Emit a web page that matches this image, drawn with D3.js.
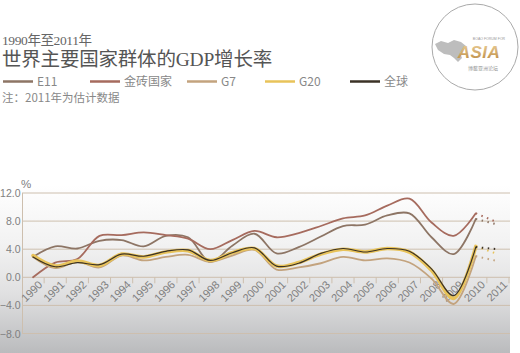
<!DOCTYPE html>
<html>
<head>
<meta charset="utf-8">
<script src="https://cdn.jsdelivr.net/npm/d3@7"></script>
<style>
  body { margin: 0; background: #fff; }
  svg { display: block; }
</style>
</head>
<body>
<svg id="chart" width="520" height="353"></svg>
<script>
// years on the x axis (2011 is an estimate, drawn dotted)
const years = [1990, 1991, 1992, 1993, 1994, 1995, 1996, 1997, 1998, 1999, 2000,
               2001, 2002, 2003, 2004, 2005, 2006, 2007, 2008, 2009, 2010, 2011];

// GDP growth, %
const e11   = [2.9, 4.4, 4.1, 5.2, 5.3, 4.4, 5.9, 5.7, 2.2, 4.5, 6.2, 3.4, 4.3, 5.8, 7.3, 7.5, 8.8, 9.1, 5.7, 3.3, 8.3, 7.5];
const brics = [0.0, 2.1, 2.6, 5.9, 6.0, 6.4, 6.0, 5.5, 4.0, 5.3, 6.6, 5.7, 6.3, 7.3, 8.4, 8.8, 10.2, 11.2, 7.8, 5.9, 9.1, 7.8];
const g7    = [2.9, 1.3, 2.2, 1.4, 3.1, 2.4, 2.9, 3.2, 2.2, 3.1, 3.9, 1.1, 1.4, 2.0, 2.9, 2.4, 2.7, 2.1, -0.2, -3.8, 3.0, 2.3];
const g20   = [3.1, 1.6, 2.3, 1.7, 3.3, 2.9, 3.6, 3.8, 2.4, 3.5, 4.1, 1.6, 2.1, 3.3, 4.0, 3.6, 4.1, 3.6, 1.0, -3.0, 4.4, 3.3];
const world = [2.9, 1.5, 2.1, 1.8, 3.3, 3.0, 3.7, 3.9, 2.4, 3.5, 4.2, 1.6, 2.0, 3.4, 4.1, 3.6, 4.1, 3.7, 1.2, -2.6, 4.3, 4.0];

const seriesNames = ['E11', '金砖国家', 'G7', 'G20', '全球'];
const seriesColors = ['#8d7565', '#a66b5e', '#c3a37e', '#e8c35a', '#3b3226'];
const yTicks = [-8, -4, 0, 4, 8, 12];

const svg = d3.select('#chart');
const cjk = "'Noto Sans CJK SC', 'Noto Sans', sans-serif";

// background panel gradient
const defs = svg.append('defs');
const grad = defs.append('linearGradient')
    .attr('id', 'bg').attr('x1', 0).attr('y1', 0).attr('x2', 0).attr('y2', 1);
grad.append('stop').attr('offset', '0%').attr('stop-color', '#ffffff');
grad.append('stop').attr('offset', '35%').attr('stop-color', '#f2f2f2');
grad.append('stop').attr('offset', '65%').attr('stop-color', '#e0e0e1');
grad.append('stop').attr('offset', '100%').attr('stop-color', '#babbbd');

const logoGrad = defs.append('linearGradient')
    .attr('id', 'asia').attr('x1', 0).attr('y1', 0).attr('x2', 0).attr('y2', 1);
logoGrad.append('stop').attr('offset', '0%').attr('stop-color', '#ecd09a');
logoGrad.append('stop').attr('offset', '100%').attr('stop-color', '#b8863e');

svg.append('rect')
    .attr('x', 0).attr('y', 185).attr('width', 510).attr('height', 168)
    .attr('fill', 'url(#bg)');

// titles
svg.append('text')
    .attr('x', 2).attr('y', 44.5)
    .attr('font-family', "'Liberation Serif', " + cjk)
    .attr('font-size', 13.5).attr('fill', '#666')
    .attr('letter-spacing', -0.4)
    .text('1990年至2011年');

svg.append('text')
    .attr('x', 2).attr('y', 65.5)
    .attr('font-family', "'Liberation Serif', " + cjk)
    .attr('font-size', 19.5).attr('fill', '#555')
    .attr('letter-spacing', -0.2)
    .text('世界主要国家群体的GDP增长率');

// legend
const legendX = [3, 90, 187, 265, 350];
const legend = svg.append('g').selectAll('g')
    .data(seriesNames)
    .enter().append('g')
    .attr('transform', (d, i) => 'translate(' + legendX[i] + ',81.5)');
legend.append('line')
    .attr('x1', 0).attr('x2', 30)
    .attr('stroke', (d, i) => seriesColors[i])
    .attr('stroke-width', 2.5);
legend.append('text')
    .attr('x', 34).attr('y', 4.5)
    .attr('font-family', cjk).attr('font-size', 12).attr('fill', '#888')
    .text(d => d);

svg.append('text')
    .attr('x', 2).attr('y', 102)
    .attr('font-family', cjk).attr('font-size', 11.5).attr('fill', '#888')
    .text('注：2011年为估计数据');

// logo
const logo = svg.append('g').attr('transform', 'translate(475,47)');
logo.append('circle').attr('r', 43).attr('fill', '#fff')
    .attr('stroke', '#aaa').attr('stroke-width', 1);
logo.append('path')
    .attr('d', 'M-40,-3 L-34,-6 L-27,-4 L-21,-7 L-14,-5 L-9,-1 L-12,3 L-15,6 L-13,11 L-17,15 L-21,11 L-25,8 L-31,7 L-37,3 Z')
    .attr('fill', '#bdbdbd');
logo.append('text')
    .attr('x', 14).attr('y', -7).attr('text-anchor', 'middle')
    .attr('font-family', 'Liberation Sans').attr('font-size', 3.5).attr('fill', '#999')
    .text('BOAO FORUM FOR');
logo.append('text')
    .attr('x', 4).attr('y', 11).attr('text-anchor', 'middle')
    .attr('font-family', 'Liberation Sans').attr('font-style', 'italic').attr('font-weight', 'bold')
    .attr('font-size', 17).attr('fill', 'url(#asia)').attr('letter-spacing', 0.5)
    .text('ASIA');
logo.append('text')
    .attr('x', 8).attr('y', 22.5).attr('text-anchor', 'middle')
    .attr('font-family', cjk).attr('font-size', 5).attr('fill', '#999')
    .text('博鳌亚洲论坛');

// scales
const x = d3.scaleBand().domain(years).range([22, 509]).padding(0);
const y = d3.scaleLinear().domain([-8, 12]).range([333.5, 193]);
const cx = d => x(d) + x.bandwidth() / 2;

// grid
const grid = svg.append('g');
grid.selectAll('line')
    .data(yTicks)
    .enter().append('line')
    .attr('x1', 22).attr('x2', 510)
    .attr('y1', d => y(d)).attr('y2', d => y(d))
    .attr('stroke', '#cdbfae').attr('stroke-width', 1);
grid.append('line')
    .attr('x1', 22.5).attr('x2', 22.5)
    .attr('y1', y(12)).attr('y2', y(-8))
    .attr('stroke', '#cdbfae').attr('stroke-width', 1);

// y labels
svg.append('g').selectAll('text')
    .data(yTicks)
    .enter().append('text')
    .attr('x', 20.5).attr('y', d => y(d) + 4)
    .attr('text-anchor', 'end')
    .attr('font-family', 'Liberation Sans').attr('font-size', 10.5).attr('fill', '#808080')
    .text(d3.format('.1f'));

svg.append('text')
    .attr('x', 21).attr('y', 188)
    .attr('font-family', 'Liberation Sans').attr('font-size', 11.5).attr('fill', '#808080')
    .text('%');

// x axis ticks & labels
const xAxis = svg.append('g');
xAxis.selectAll('line')
    .data(years)
    .enter().append('line')
    .attr('x1', d => x(d) + x.bandwidth()).attr('x2', d => x(d) + x.bandwidth())
    .attr('y1', y(0)).attr('y2', y(0) + 6)
    .attr('stroke', '#cdbfae');
xAxis.selectAll('text')
    .data(years)
    .enter().append('text')
    .attr('transform', d => 'translate(' + (x(d) + x.bandwidth() - 1) + ',' + (y(0) + 8) + ') rotate(-45)')
    .attr('text-anchor', 'end')
    .attr('font-family', 'Liberation Sans').attr('font-size', 11).attr('fill', '#808080')
    .text(d => d);

// lines
const allSeries = [e11, brics, g7, g20, world];
const widths = [1.8, 1.8, 1.8, 3.6, 1.2];
const line = d3.line()
    .x(d => cx(d.year))
    .y(d => y(d.v))
    .curve(d3.curveCatmullRom.alpha(0.5));

const lines = svg.append('g').attr('fill', 'none');
allSeries.forEach(function (vals, i) {
    const pts = years.map((yr, j) => ({ year: yr, v: vals[j] }));
    lines.append('path')
        .datum(pts.slice(0, pts.length - 1))
        .attr('d', line)
        .attr('stroke', seriesColors[i])
        .attr('stroke-width', widths[i])
        .attr('stroke-linecap', 'round');
    // estimate for 2011, dotted
    lines.append('path')
        .datum(pts.slice(pts.length - 2))
        .attr('d', d3.line().x(d => cx(d.year)).y(d => y(d.v)))
        .attr('stroke', seriesColors[i])
        .attr('stroke-width', 2)
        .attr('stroke-dasharray', '1.5,4.5');
});
</script>
</body>
</html>
